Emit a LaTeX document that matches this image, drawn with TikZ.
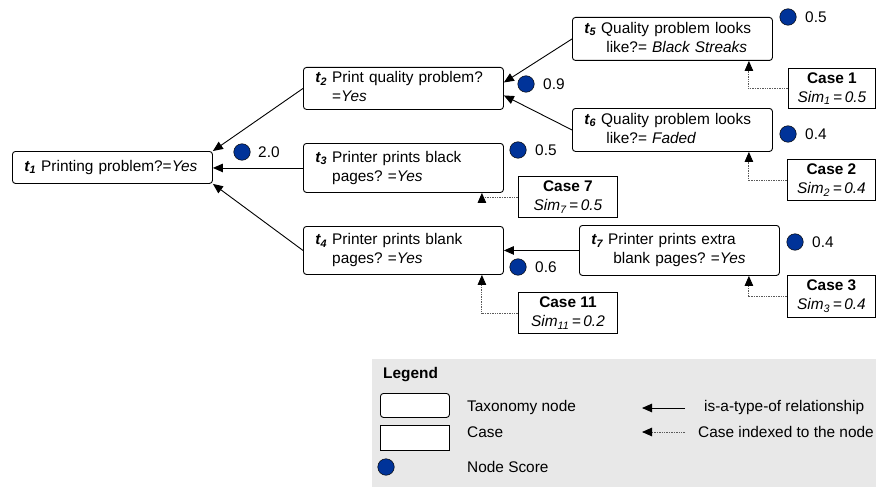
\documentclass[tikz,border=0pt]{standalone}
\usepackage{fontspec}
\setmainfont{Liberation Sans}
\usetikzlibrary{arrows.meta,calc}
\frenchspacing

\definecolor{scoreblue}{RGB}{0,51,153}
\definecolor{legendgray}{RGB}{232,232,232}
\definecolor{dotgray}{RGB}{90,90,90}

% taxonomy label t_i and case similarity Sim_i
\newcommand{\tlab}[1]{\textbf{\textit{t\textsubscript{#1}}}}
\newcommand{\simval}[2]{\textit{Sim\textsubscript{#1}\,=\,#2}}
\newcommand{\twoline}[2]{\begin{tabular}[t]{@{}l@{}}#1\\#2\end{tabular}}

\tikzset{
  tax/.style={draw, line width=0.9pt, rounded corners=3pt, anchor=north west,
    text width=176pt, inner xsep=12pt, inner ysep=0pt, align=left,
    font=\fontsize{15.4}{19}\selectfont},
  casebox/.style={draw, line width=0.9pt, anchor=north west, inner sep=1pt,
    align=center, font=\fontsize{15.4}{19}\selectfont},
  score/.style={circle, draw=black, line width=0.5pt, fill=scoreblue,
    minimum size=16.5pt, inner sep=0pt},
  scoretext/.style={anchor=west, inner sep=0pt, font=\fontsize{15.4}{19}\selectfont},
  legtext/.style={anchor=west, inner sep=0pt, font=\fontsize{15.4}{19}\selectfont},
  isa/.style={line width=0.9pt, -{Triangle[length=10pt,width=8.5pt]}},
  caselink/.style={line width=0.9pt, draw=dotgray, dash pattern=on 0.8pt off 0.9pt,
    -{Triangle[length=10pt,width=8.5pt,color=black]}},
}

\begin{document}
\begin{tikzpicture}[x=1pt,y=-1pt]
\useasboundingbox (0,0) rectangle (876,487);

% taxonomy nodes
\node[tax, minimum height=32pt] (t1) at (12,151)
  {\tlab{1} Printing problem?=\textit{Yes}};
\node[tax, minimum height=42pt] (t2) at (303,67)
  {\tlab{2} \twoline{Print quality problem?}{=\textit{Yes}}};
\node[tax, minimum height=49pt] (t3) at (303,143)
  {\tlab{3} \twoline{Printer prints black}{pages? =\textit{Yes}}};
\node[tax, minimum height=48pt] (t4) at (303,226)
  {\tlab{4} \twoline{Printer prints blank}{pages? =\textit{Yes}}};
\node[tax, minimum height=43pt] (t5) at (572,17)
  {\tlab{5} \twoline{Quality problem looks}{\ like?= \textit{Black Streaks}}};
\node[tax, minimum height=43pt] (t6) at (572,108)
  {\tlab{6} \twoline{Quality problem looks}{\ like?= \textit{Faded}}};
\node[tax, minimum height=50pt] (t7) at (579,225)
  {\tlab{7} \twoline{Printer prints extra}{\ blank pages? =\textit{Yes}}};

% cases
\node[casebox, minimum width=87pt, minimum height=40pt] (c1) at (788,68)
  {\textbf{Case 1}\\\simval{1}{0.5}};
\node[casebox, minimum width=88pt, minimum height=41pt] (c2) at (787,159)
  {\textbf{Case 2}\\\simval{2}{0.4}};
\node[casebox, minimum width=88pt, minimum height=42pt] (c3) at (787,275)
  {\textbf{Case 3}\\\simval{3}{0.4}};
\node[casebox, minimum width=99pt, minimum height=41pt] (c7) at (518,176)
  {\textbf{Case 7}\\\simval{7}{0.5}};
\node[casebox, minimum width=99pt, minimum height=41pt] (c11) at (518,292)
  {\textbf{Case 11}\\\simval{11}{0.2}};

% node scores
\node[score] (s1) at (242,152) {};
\node[scoretext] (v1) at (258,152) {2.0};
\node[score] (s2) at (526,84) {};
\node[scoretext] (v2) at (543,84) {0.9};
\node[score] (s3) at (518,150) {};
\node[scoretext] (v3) at (535,150) {0.5};
\node[score] (s4) at (518,267) {};
\node[scoretext] (v4) at (535,267) {0.6};
\node[score] (s5) at (788,17) {};
\node[scoretext] (v5) at (805,17) {0.5};
\node[score] (s6) at (788,134) {};
\node[scoretext] (v6) at (805,134) {0.4};
\node[score] (s7) at (795,242) {};
\node[scoretext] (v7) at (812,242) {0.4};

% is-a-type-of links
\draw[isa] (t2.west) -- (t1.north east);
\draw[isa] (t3.west) -- (t3.west -| t1.east);
\draw[isa] (t4.west) -- (t1.south east);
\draw[isa] (t5.west) -- ([yshift=6pt]t2.east);
\draw[isa] (t6.west) -- ([yshift=-7pt]t2.east);
\draw[isa] (t7.west) -- (t7.west -| t4.east);

% cases indexed to nodes
\draw[caselink] (c1.west) -| ([xshift=-24pt]t5.south east);
\draw[caselink] (c2.west) -| ([xshift=-24pt]t6.south east);
\draw[caselink] (c3.west) -| ([xshift=-31pt]t7.south east);
\draw[caselink] (c7.west) -| ([xshift=-22pt]t3.south east);
\draw[caselink] (c11.west) -| ([xshift=-22pt]t4.south east);

% legend
\fill[legendgray] (372,359) rectangle (876,487);
\node[anchor=west, inner sep=0pt, font=\fontsize{15.4}{19}\selectfont\bfseries]
  (legtitle) at (383,375) {Legend};
\node[draw, line width=0.9pt, rounded corners=3pt, fill=white, anchor=north west,
  minimum width=69pt, minimum height=24pt, inner sep=0pt] (legtax) at (380,393) {};
\node[draw, line width=0.9pt, fill=white, anchor=north west,
  minimum width=69pt, minimum height=25pt, inner sep=0pt] (legcase) at (380,425) {};
\node[score] (legscore) at (386,467) {};
\node[legtext] (lt1) at (467,408) {Taxonomy node};
\node[legtext] (lt2) at (467,432) {Case};
\node[legtext] (lt3) at (467,467) {Node Score};
\coordinate (la1) at (685,408);
\coordinate (la2) at (642,408);
\coordinate (lb1) at (685,432);
\coordinate (lb2) at (642,432);
\draw[isa] (la1) -- (la2);
\draw[caselink] (lb1) -- (lb2);
\node[legtext] (lt4) at (704,408) {is-a-type-of relationship};
\node[legtext] (lt5) at (698,432) {Case indexed to the node};
\end{tikzpicture}
\end{document}
